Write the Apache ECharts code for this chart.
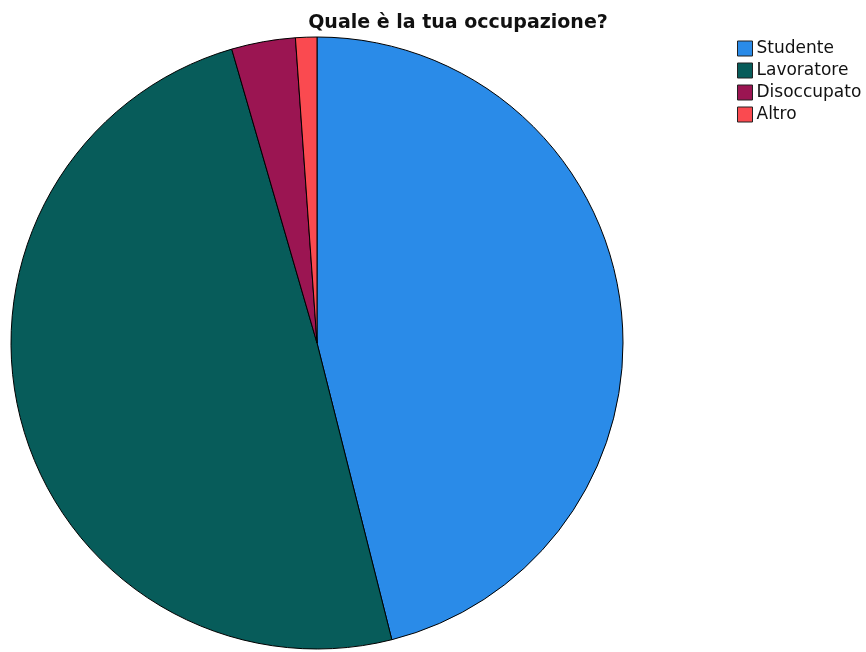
<!DOCTYPE html>
<html>
<head>
<meta charset="utf-8">
<script src="https://cdn.jsdelivr.net/npm/echarts@6/dist/echarts.min.js"></script>
<style>
  html, body { margin: 0; padding: 0; background: #fff; }
  #chart { width: 866px; height: 652px; }
</style>
</head>
<body>
<div id="chart"></div>
<script>
// Occupation survey answers (counts)
const categories = ['Studente', 'Lavoratore', 'Disoccupato', 'Altro'];
const counts = [41, 44, 3, 1];
const colors = ['#2a8be8', '#075c5a', '#9b1552', '#fa4a50'];

const chart = echarts.init(document.getElementById('chart'), null, { renderer: 'canvas' });

chart.setOption({
  animation: false,
  title: {
    text: 'Quale è la tua occupazione?',
    left: 453,
    textAlign: 'center',
    top: 9,
    textStyle: {
      fontFamily: 'DejaVu Sans, sans-serif',
      fontWeight: 'bold',
      fontSize: 19,
      color: '#111'
    }
  },
  legend: {
    orient: 'vertical',
    left: 737,
    top: 40,
    padding: 0,
    itemWidth: 15,
    itemHeight: 15,
    itemGap: 5,
    icon: 'rect',
    selectedMode: false,
    textStyle: {
      fontFamily: 'DejaVu Sans, sans-serif',
      fontSize: 17,
      color: '#111',
      padding: [0, 0, 0, -1]
    },
    data: categories.map((c, i) => ({
      name: c,
      itemStyle: { color: colors[i], borderColor: '#222', borderWidth: 1 }
    }))
  },
  series: [{
    type: 'pie',
    center: [317, 343],
    radius: [0, 306],
    startAngle: 90,
    clockwise: true,
    label: { show: false },
    labelLine: { show: false },
    emphasis: { disabled: true },
    itemStyle: { borderColor: '#000', borderWidth: 1 },
    data: categories.map((c, i) => ({
      name: c,
      value: counts[i],
      itemStyle: { color: colors[i] }
    }))
  }]
});
</script>
</body>
</html>
